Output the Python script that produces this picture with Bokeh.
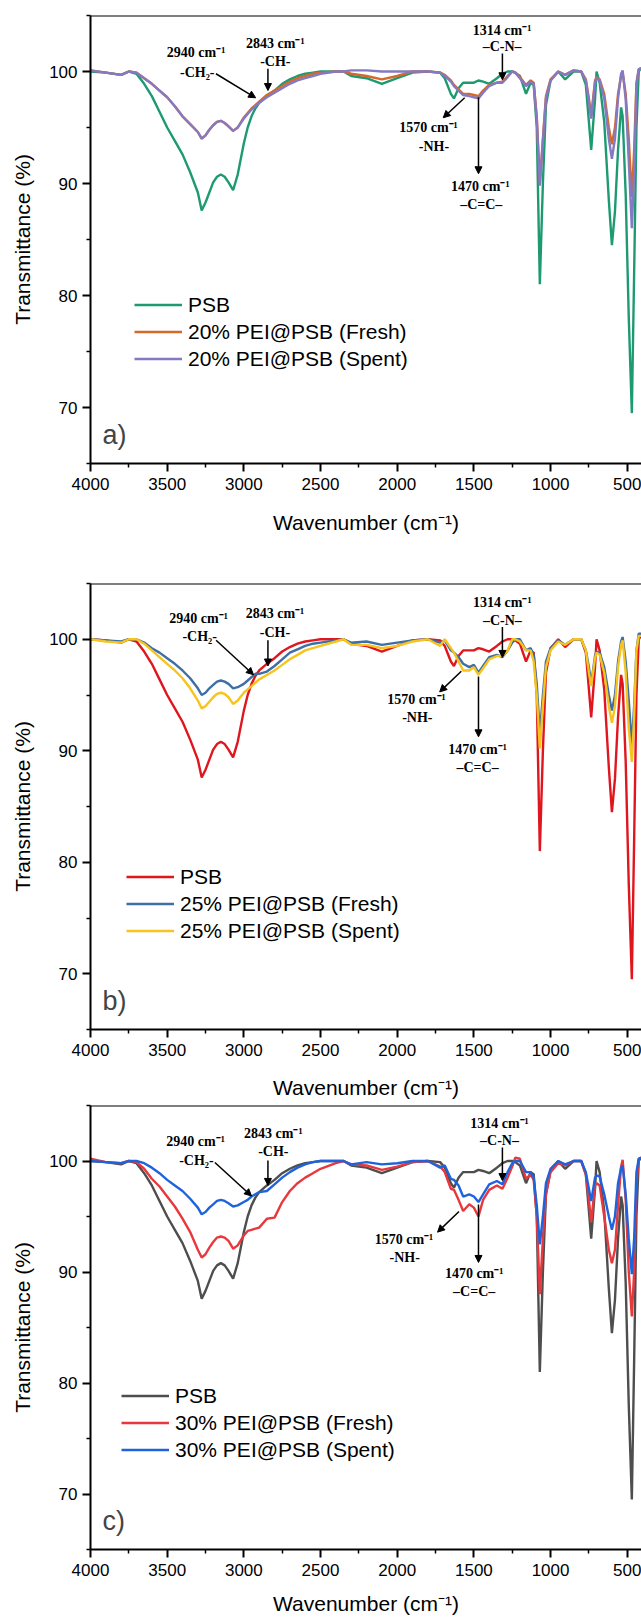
from bokeh.plotting import figure
from bokeh.layouts import column
from bokeh.models import Range1d, FixedTicker, Span, Arrow, NormalHead, Label, ColumnDataSource
from bokeh.core.properties import value
from bokeh.embed import file_html
from bokeh.resources import INLINE

# ---------------- data ----------------
WN = [4000, 3900, 3800, 3750, 3700, 3650, 3600, 3550, 3500, 3450, 3400, 3350, 3300, 3275, 3250, 3225,
      3200, 3175, 3150, 3125, 3100, 3070, 3040, 3000, 2975, 2950, 2925, 2900, 2850, 2800, 2750, 2700,
      2650, 2600, 2550, 2500,
      2400, 2350, 2300, 2200, 2100, 2000, 1900,
      1800, 1720, 1690, 1650, 1630, 1600, 1570, 1530, 1500, 1470, 1440, 1400, 1350, 1314, 1280, 1250,
      1230, 1200, 1160, 1130, 1110, 1090, 1070, 1050, 1030, 1000, 950, 905, 850, 800, 770, 750, 735,
      710, 700, 680, 650, 620, 600, 580, 560, 540, 530, 510, 490, 470, 455, 440, 425, 410]

PSB = [100.0, 99.9, 99.7, 100.0, 99.8, 98.9, 97.8, 96.4, 95.0, 93.8, 92.6, 91.0, 89.2, 87.6, 88.3, 89.2,
       90.1, 90.6, 90.8, 90.6, 90.1, 89.4, 90.8, 93.6, 95.0, 96.0, 96.7, 97.2, 97.8, 98.3, 98.9, 99.3,
       99.6, 99.8, 99.9, 100.0,
       100.0, 100.0, 99.6, 99.4, 98.9, 99.4, 99.9,
       100.0, 99.9, 99.4, 98.0, 97.6, 98.5, 99.0, 99.0, 99.0, 99.2, 99.1, 98.9, 99.4, 99.8, 100.0, 100.0,
       99.9, 99.6, 98.0, 99.0, 98.8, 95.0, 81.0, 90.0, 97.0, 99.2, 100.0, 99.3, 100.0, 100.0, 98.8, 95.5, 93.0,
       97.5, 100.0, 99.0, 95.5, 88.5, 84.5, 87.5, 93.0, 96.8, 96.0, 89.0, 78.0, 69.5, 82.0, 95.0, 100.0, 100.3]

FRESH_20 = [100.1, 99.9, 99.7, 100.0, 99.9, 99.4, 98.9, 98.3, 97.7, 96.9, 96.0, 95.3, 94.6, 94.0, 94.3, 94.8,
            95.2, 95.5, 95.6, 95.4, 95.1, 94.7, 95.0, 95.9, 96.3, 96.7, 97.0, 97.3, 97.9, 98.3, 98.7, 99.1,
            99.4, 99.6, 99.8, 99.9,
            100.0, 100.0, 99.8, 99.6, 99.3, 99.6, 100.0,
            100.0, 99.9, 99.7, 99.2, 98.8, 98.4, 98.0, 98.0, 97.9, 97.8, 98.3, 98.8, 99.0, 99.1, 99.6, 100.0,
            99.9, 99.5, 98.8, 99.2, 99.0, 96.0, 90.0, 94.0, 97.8, 99.3, 100.0, 99.7, 100.1, 100.0, 99.3, 97.6, 96.0,
            99.2, 99.5, 99.3, 98.0, 95.0, 93.5, 95.0, 98.0, 99.6, 99.9, 98.0, 94.0, 88.8, 93.0, 99.0, 100.2, 100.3]

SPENT_20 = [100.1, 99.9, 99.7, 100.0, 99.9, 99.4, 98.9, 98.3, 97.7, 96.9, 96.0, 95.3, 94.6, 94.0, 94.3, 94.8,
            95.2, 95.5, 95.6, 95.4, 95.1, 94.7, 95.0, 95.8, 96.2, 96.6, 96.9, 97.2, 97.7, 98.1, 98.5, 98.9,
            99.2, 99.4, 99.6, 99.8,
            100.0, 100.0, 100.1, 100.1, 100.0, 100.0, 100.0,
            100.0, 99.9, 99.6, 99.1, 98.7, 98.3, 97.9, 97.8, 97.7, 97.6, 98.1, 98.7, 99.0, 99.0, 99.5, 100.0,
            99.9, 99.4, 98.7, 99.1, 98.9, 95.8, 89.8, 93.8, 97.6, 99.2, 100.0, 99.7, 100.1, 100.0, 99.2, 97.3, 95.8,
            99.0, 99.4, 99.2, 97.6, 94.0, 92.2, 94.0, 97.6, 99.8, 100.1, 97.5, 92.0, 86.0, 91.0, 98.8, 100.2, 100.3]

FRESH_25 = [100.0, 99.9, 99.8, 100.0, 100.0, 99.7, 99.2, 98.8, 98.3, 97.8, 97.2, 96.5, 95.6, 95.0, 95.2, 95.6,
            95.9, 96.2, 96.3, 96.2, 96.0, 95.6, 95.7, 96.0, 96.3, 96.6, 96.9, 96.9, 97.1, 97.6, 98.2, 98.8,
            99.1, 99.4, 99.6, 99.7,
            99.9, 100.0, 99.7, 99.8, 99.5, 99.7, 99.9,
            100.0, 99.7, 99.9, 99.0, 98.8, 98.4, 97.8, 97.5, 97.7, 97.0, 97.6, 98.4, 98.6, 98.4, 99.0, 99.7,
            100.0, 100.0, 99.0, 99.2, 98.6, 96.0, 91.5, 95.0, 98.0, 99.2, 99.9, 99.5, 100.0, 100.0, 99.0, 97.5, 96.0,
            98.5, 98.9, 98.8, 97.5, 95.0, 93.6, 95.0, 98.0, 99.8, 100.2, 98.0, 94.5, 90.5, 94.0, 99.0, 100.5, 100.5]

SPENT_25 = [100.0, 99.8, 99.7, 100.0, 100.0, 99.6, 99.0, 98.4, 97.8, 97.2, 96.5, 95.6, 94.5, 93.8, 94.0, 94.4,
            94.8, 95.1, 95.2, 95.1, 94.8, 94.2, 94.5, 95.2, 95.5, 95.8, 96.1, 96.4, 96.8, 97.2, 97.7, 98.2,
            98.6, 99.0, 99.2, 99.4,
            99.8, 100.0, 99.5, 99.5, 99.2, 99.4, 99.8,
            100.0, 99.4, 100.0, 99.2, 98.8, 98.0, 97.2, 97.2, 97.5, 96.8, 97.4, 98.2, 98.5, 98.5, 99.0, 100.0,
            100.0, 99.8, 99.0, 99.0, 98.0, 95.0, 90.2, 94.0, 97.5, 99.0, 99.8, 99.5, 100.0, 100.0, 99.0, 97.0, 95.8,
            98.3, 98.8, 98.6, 97.0, 94.0, 92.5, 94.0, 97.5, 99.5, 99.9, 97.0, 92.0, 89.0, 93.0, 99.0, 100.3, 100.3]

FRESH_30 = [100.2, 99.9, 99.8, 100.0, 99.9, 99.3, 98.4, 97.7, 96.8, 95.9, 94.8, 93.6, 92.0, 91.3, 91.6, 92.2,
            92.7, 93.1, 93.2, 93.1, 92.8, 92.1, 92.4, 93.3, 93.7, 93.8, 93.9, 94.0, 94.8, 94.9, 96.3, 97.3,
            98.0, 98.5, 98.9, 99.3,
            99.8, 100.0, 99.7, 99.6, 99.2, 99.5, 99.9,
            100.0, 99.5, 99.0, 97.5, 97.4, 96.5, 95.5, 96.1, 95.8, 95.0, 96.5, 97.4, 97.8, 97.5, 98.5, 99.5,
            100.3, 100.2, 98.4, 98.8, 98.3, 95.0, 88.0, 93.0, 97.0, 99.0, 99.8, 99.6, 100.0, 100.0, 98.8, 96.5, 94.5,
            97.8, 98.0, 97.8, 95.0, 92.0, 90.8, 92.0, 96.0, 99.5, 100.1, 96.5, 90.0, 86.0, 90.0, 98.0, 100.2, 100.3]

SPENT_30 = [100.0, 99.9, 99.8, 100.0, 100.0, 99.8, 99.4, 98.9, 98.3, 97.8, 97.3, 96.6, 95.8, 95.2, 95.4, 95.8,
            96.1, 96.4, 96.5, 96.4, 96.2, 95.9, 96.0, 96.3, 96.5, 96.8, 97.0, 97.2, 97.3, 97.9, 98.5, 99.0,
            99.4, 99.7, 99.9, 100.0,
            100.0, 100.0, 99.7, 99.9, 99.7, 99.8, 100.0,
            100.0, 99.4, 99.6, 98.4, 98.3, 97.8, 96.8, 97.0, 96.8, 96.3, 97.0, 97.9, 98.2, 97.9, 99.0, 99.8,
            100.0, 100.0, 99.0, 99.0, 98.5, 96.0, 92.5, 95.0, 98.0, 99.3, 100.0, 99.7, 100.0, 100.0, 99.0, 97.5, 96.4,
            98.5, 98.7, 98.6, 97.0, 95.0, 93.8, 95.0, 98.0, 99.4, 99.6, 97.0, 93.0, 89.8, 93.0, 99.0, 100.2, 100.3]

X_TICKS = [4000, 3500, 3000, 2500, 2000, 1500, 1000, 500]
Y_TICKS = [70, 80, 90, 100]

# annotation text: (label, wavenumber, transmittance)
ANN_A = [("2940 cm⁻¹", 3311, 101.72), ("-CH₂-", 3304, 99.94), ("2843 cm⁻¹", 2795, 102.5),
         ("-CH-", 2795, 100.9), ("1314 cm⁻¹", 1316, 103.7), ("–C-N–", 1316, 102.24),
         ("1570 cm⁻¹", 1796, 94.97), ("-NH-", 1760, 93.3), ("1470 cm⁻¹", 1458, 89.76), ("–C=C–", 1452, 88.1)]
ARR_A = [(3182, 99.8, 2923, 97.65), (2843, 100.24, 2843, 98.3), (1314, 101.6, 1314, 99.26),
         (1560, 97.65, 1700, 95.87), (1470, 97.7, 1470, 90.87)]

ANN_B = [("2940 cm⁻¹", 3295, 101.83), ("-CH₂-", 3288, 100.22), ("2843 cm⁻¹", 2797, 102.3),
         ("-CH-", 2797, 100.6), ("1314 cm⁻¹", 1314, 103.3), ("–C-N–", 1314, 101.7),
         ("1570 cm⁻¹", 1874, 94.6), ("-NH-", 1869, 92.96), ("1470 cm⁻¹", 1476, 90.1), ("–C=C–", 1476, 88.5)]
ARR_B = [(3181, 99.91, 2937, 96.82), (2843, 99.91, 2843, 97.6), (1314, 101.09, 1314, 98.37),
         (1582, 97.13, 1723, 95.28), (1470, 96.67, 1470, 91.25)]

ANN_C = [("2940 cm⁻¹", 3315, 101.72), ("-CH₂-", 3309, 100.05), ("2843 cm⁻¹", 2808, 102.44),
         ("-CH-", 2808, 100.88), ("1314 cm⁻¹", 1333, 103.38), ("–C-N–", 1333, 101.82),
         ("1570 cm⁻¹", 1956, 92.96), ("-NH-", 1951, 91.34), ("1470 cm⁻¹", 1498, 89.86), ("–C=C–", 1498, 88.24)]
ARR_C = [(3189, 99.86, 2950, 96.85), (2843, 100.05, 2843, 97.8), (1314, 101.22, 1314, 98.24),
         (1597, 95.45, 1737, 93.59), (1470, 96.08, 1470, 90.86)]

SANS = "Liberation Sans"
SERIF = "Liberation Serif"


def make_panel(series, letter, ann, arr, height, top, bottom, left, legend_xy, xlabel_standoff):
    p = figure(width=641, height=height, output_backend="svg", toolbar_location=None,
               x_range=Range1d(4000, 407), y_range=Range1d(65, 105),
               min_border_left=left, min_border_right=0, min_border_top=top, min_border_bottom=bottom)
    p.outline_line_color = None
    p.xgrid.visible = False
    p.ygrid.visible = False
    p.background_fill_color = "white"
    p.border_fill_color = "white"

    for name, vals, color in series:
        p.line(WN, vals, line_color=color, line_width=2.4, legend_label=name)

    src = ColumnDataSource(dict(x=[a[1] for a in ann], y=[a[2] for a in ann], t=[a[0] for a in ann]))
    p.text("x", "y", text="t", source=src, text_font=value(SERIF), text_font_style="bold",
           text_font_size="14px", text_align="center", text_baseline="middle", text_color="black")
    for (x0, y0, x1, y1) in arr:
        p.add_layout(Arrow(end=NormalHead(size=7, fill_color="black", line_color="black"),
                           x_start=x0, y_start=y0, x_end=x1, y_end=y1,
                           line_color="black", line_width=1.5))

    p.add_layout(Span(location=105, dimension="width", line_color="black", line_width=2))

    p.add_layout(Label(x=12, y=14, x_units="screen", y_units="screen", text=letter,
                       text_font=SANS, text_font_size="27px", text_baseline="bottom"))

    xa = p.xaxis[0]
    xa.ticker = FixedTicker(ticks=X_TICKS, minor_ticks=[3750, 3250, 2750, 2250, 1750, 1250, 750])
    xa.axis_label = "Wavenumber (cm⁻¹)"
    ya = p.yaxis[0]
    ya.ticker = FixedTicker(ticks=Y_TICKS, minor_ticks=[65, 75, 85, 95, 105])
    ya.axis_label = "Transmittance (%)"
    for ax in (xa, ya):
        ax.axis_line_width = 2
        ax.axis_line_color = "black"
        ax.major_tick_line_width = 2
        ax.major_tick_line_color = "black"
        ax.minor_tick_line_width = 1.5
        ax.minor_tick_line_color = "black"
        ax.major_tick_in = 0
        ax.major_tick_out = 8
        ax.minor_tick_in = 0
        ax.minor_tick_out = 4
        ax.major_label_text_font = SANS
        ax.major_label_text_font_size = "17px"
        ax.major_label_text_color = "black"
        ax.axis_label_text_font = SANS
        ax.axis_label_text_font_size = "21px"
        ax.axis_label_text_font_style = "normal"
        ax.axis_label_text_color = "black"
    xa.major_label_standoff = 6
    xa.axis_label_standoff = xlabel_standoff
    ya.major_label_standoff = 5
    ya.axis_label_standoff = 12

    lg = p.legend[0]
    lg.location = legend_xy
    lg.label_text_font = SANS
    lg.label_text_font_size = "21px"
    lg.label_text_color = "black"
    lg.glyph_width = 48
    lg.glyph_height = 27
    lg.label_height = 27
    lg.label_standoff = 6
    lg.spacing = 0
    lg.padding = 0
    lg.margin = 0
    lg.border_line_color = None
    lg.background_fill_alpha = 0
    return p


pa = make_panel([("PSB", PSB, "#1e9a72"), ("20% PEI@PSB (Fresh)", FRESH_20, "#d4692a"),
                 ("20% PEI@PSB (Spent)", SPENT_20, "#8479c2")],
                "a)", ANN_A, ARR_A, 540, 15, 77, 87, (44, 91), 18)
pb = make_panel([("PSB", PSB, "#e0161f"), ("25% PEI@PSB (Fresh)", FRESH_25, "#3d6fa6"),
                 ("25% PEI@PSB (Spent)", SPENT_25, "#f6c41c")],
                "b)", ANN_B, ARR_B, 564, 43, 75, 88, (36, 85), 17)
pc = make_panel([("PSB", PSB, "#4e4e4e"), ("30% PEI@PSB (Fresh)", FRESH_30, "#e8383d"),
                 ("30% PEI@PSB (Spent)", SPENT_30, "#1f63dc")],
                "c)", ANN_C, ARR_C, 517, 1, 72, 90, (31, 86), 13)

layout = column(pa, pb, pc, spacing=0)
open("out.html", "w").write(file_html(layout, INLINE))
